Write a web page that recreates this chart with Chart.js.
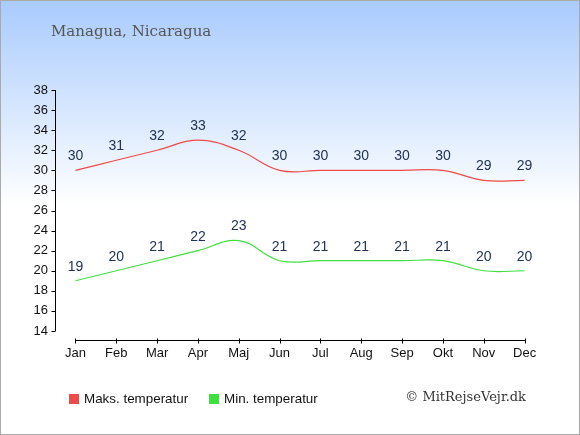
<!DOCTYPE html>
<html>
<head>
<meta charset="utf-8">
<script src="https://cdn.jsdelivr.net/npm/chart.js@4/dist/chart.umd.min.js"></script>
<style>
html,body{margin:0;padding:0;background:#fff;}
#wrap{position:relative;width:580px;height:435px;box-sizing:border-box;border:1px solid #aaaaaa;overflow:hidden;}
canvas{display:block;}
</style>
</head>
<body>
<div id="wrap"><canvas id="c" width="578" height="433"></canvas></div>
<script>
const months = ['Jan','Feb','Mar','Apr','Maj','Jun','Jul','Aug','Sep','Okt','Nov','Dec'];
const maxTemp = [30,31,32,33,32,30,30,30,30,30,29,29];
const minTemp = [19,20,21,22,23,21,21,21,21,21,20,20];
const yTicks = [14,16,18,20,22,24,26,28,30,32,34,36,38];
const titleText = 'Managua, Nicaragua';
const legendMax = 'Maks. temperatur';
const legendMin = 'Min. temperatur';
const copyright = '\u00A9 MitRejseVejr.dk';

const RED = '#ee4b4b';
const GREEN = '#3ee03e';
const OX = -1, OY = -1; // canvas offset due to border

const bgPlugin = {
  id: 'bg',
  beforeDraw(chart) {
    const ctx = chart.ctx;
    const g = ctx.createLinearGradient(0, 0, 0, 205);
    g.addColorStop(0, '#a9cbfd');
    g.addColorStop(1, '#ffffff');
    ctx.save();
    ctx.fillStyle = '#ffffff';
    ctx.fillRect(0, 0, chart.width, chart.height);
    ctx.fillStyle = g;
    ctx.fillRect(0, 0, chart.width, 205);
    ctx.restore();
  }
};

const decoPlugin = {
  id: 'deco',
  afterDraw(chart) {
    const ctx = chart.ctx;
    const xs = chart.scales.x, ys = chart.scales.y;
    ctx.save();
    // axes
    ctx.strokeStyle = '#000';
    ctx.lineWidth = 1;
    const ax = Math.round(chart.chartArea.left) + 0.5;
    ctx.beginPath();
    ctx.moveTo(ax, ys.getPixelForValue(38));
    ctx.lineTo(ax, ys.getPixelForValue(14));
    yTicks.forEach(v => {
      const y = Math.round(ys.getPixelForValue(v)) + 0.5;
      ctx.moveTo(ax - 4, y);
      ctx.lineTo(ax, y);
    });
    const xy = Math.round(chart.chartArea.bottom) + 9.5;
    const x0 = xs.getPixelForValue(0), x1 = xs.getPixelForValue(months.length - 1);
    ctx.moveTo(Math.round(x0), xy);
    ctx.lineTo(Math.round(x1) + 1, xy);
    months.forEach((m, i) => {
      const x = Math.round(xs.getPixelForValue(i)) + 0.5;
      ctx.moveTo(x, xy - 2);
      ctx.lineTo(x, xy + 3);
    });
    ctx.stroke();

    // title
    ctx.fillStyle = '#555555';
    ctx.font = '15px "DejaVu Serif", serif';
    ctx.textBaseline = 'alphabetic';
    ctx.textAlign = 'left';
    ctx.fillText(titleText, 51 + OX, 36 + OY);

    // legend
    ctx.font = '13.4px "Liberation Sans", Arial, sans-serif';
    ctx.textBaseline = 'middle';
    ctx.fillStyle = RED;
    ctx.fillRect(69 + OX, 394 + OY, 10, 10);
    ctx.fillStyle = '#111';
    ctx.fillText(legendMax, 84 + OX, 399.5 + OY);
    ctx.fillStyle = GREEN;
    ctx.fillRect(209 + OX, 394 + OY, 10, 10);
    ctx.fillStyle = '#111';
    ctx.fillText(legendMin, 224 + OX, 399.5 + OY);

    // copyright
    ctx.fillStyle = '#333333';
    ctx.font = '13px "DejaVu Serif", serif';
    ctx.textAlign = 'right';
    ctx.fillText(copyright, 526 + OX, 398 + OY);
    ctx.restore();
  },
  afterDatasetsDraw(chart) {
    const ctx = chart.ctx;
    ctx.save();
    ctx.fillStyle = '#223355';
    ctx.font = '14px "Liberation Sans", Arial, sans-serif';
    ctx.textAlign = 'center';
    ctx.textBaseline = 'middle';
    chart.data.datasets.forEach((ds, di) => {
      const meta = chart.getDatasetMeta(di);
      meta.data.forEach((pt, i) => {
        ctx.fillText(String(ds.data[i]), pt.x, pt.y - 14);
      });
    });
    ctx.restore();
  }
};

new Chart(document.getElementById('c'), {
  type: 'line',
  data: {
    labels: months,
    datasets: [
      { label: legendMax, data: maxTemp, borderColor: RED, backgroundColor: RED, borderWidth: 1.2, pointRadius: 0, tension: 0.4, fill: false },
      { label: legendMin, data: minTemp, borderColor: GREEN, backgroundColor: GREEN, borderWidth: 1.2, pointRadius: 0, tension: 0.4, fill: false }
    ]
  },
  options: {
    responsive: false,
    animation: false,
    devicePixelRatio: 1,
    layout: { padding: { left: 9, right: 34, top: 89, bottom: 63 } },
    plugins: { legend: { display: false }, tooltip: { enabled: false }, title: { display: false } },
    scales: {
      x: {
        offset: true,
        grid: { display: false, drawTicks: false, tickLength: 0 },
        border: { display: false },
        ticks: { color: '#111', font: { size: 13, family: '"Liberation Sans", Arial, sans-serif' }, padding: 15, maxRotation: 0 },
        afterFit(s) { s.height = 40; }
      },
      y: {
        min: 14, max: 38,
        grid: { display: false, drawTicks: false, tickLength: 0 },
        border: { display: false },
        afterBuildTicks(s) { s.ticks = yTicks.map(v => ({ value: v })); },
        ticks: { color: '#111', font: { size: 13, family: '"Liberation Sans", Arial, sans-serif' }, padding: 7 },
        afterFit(s) { s.width = 45; }
      }
    }
  },
  plugins: [bgPlugin, decoPlugin]
});
</script>
</body>
</html>
